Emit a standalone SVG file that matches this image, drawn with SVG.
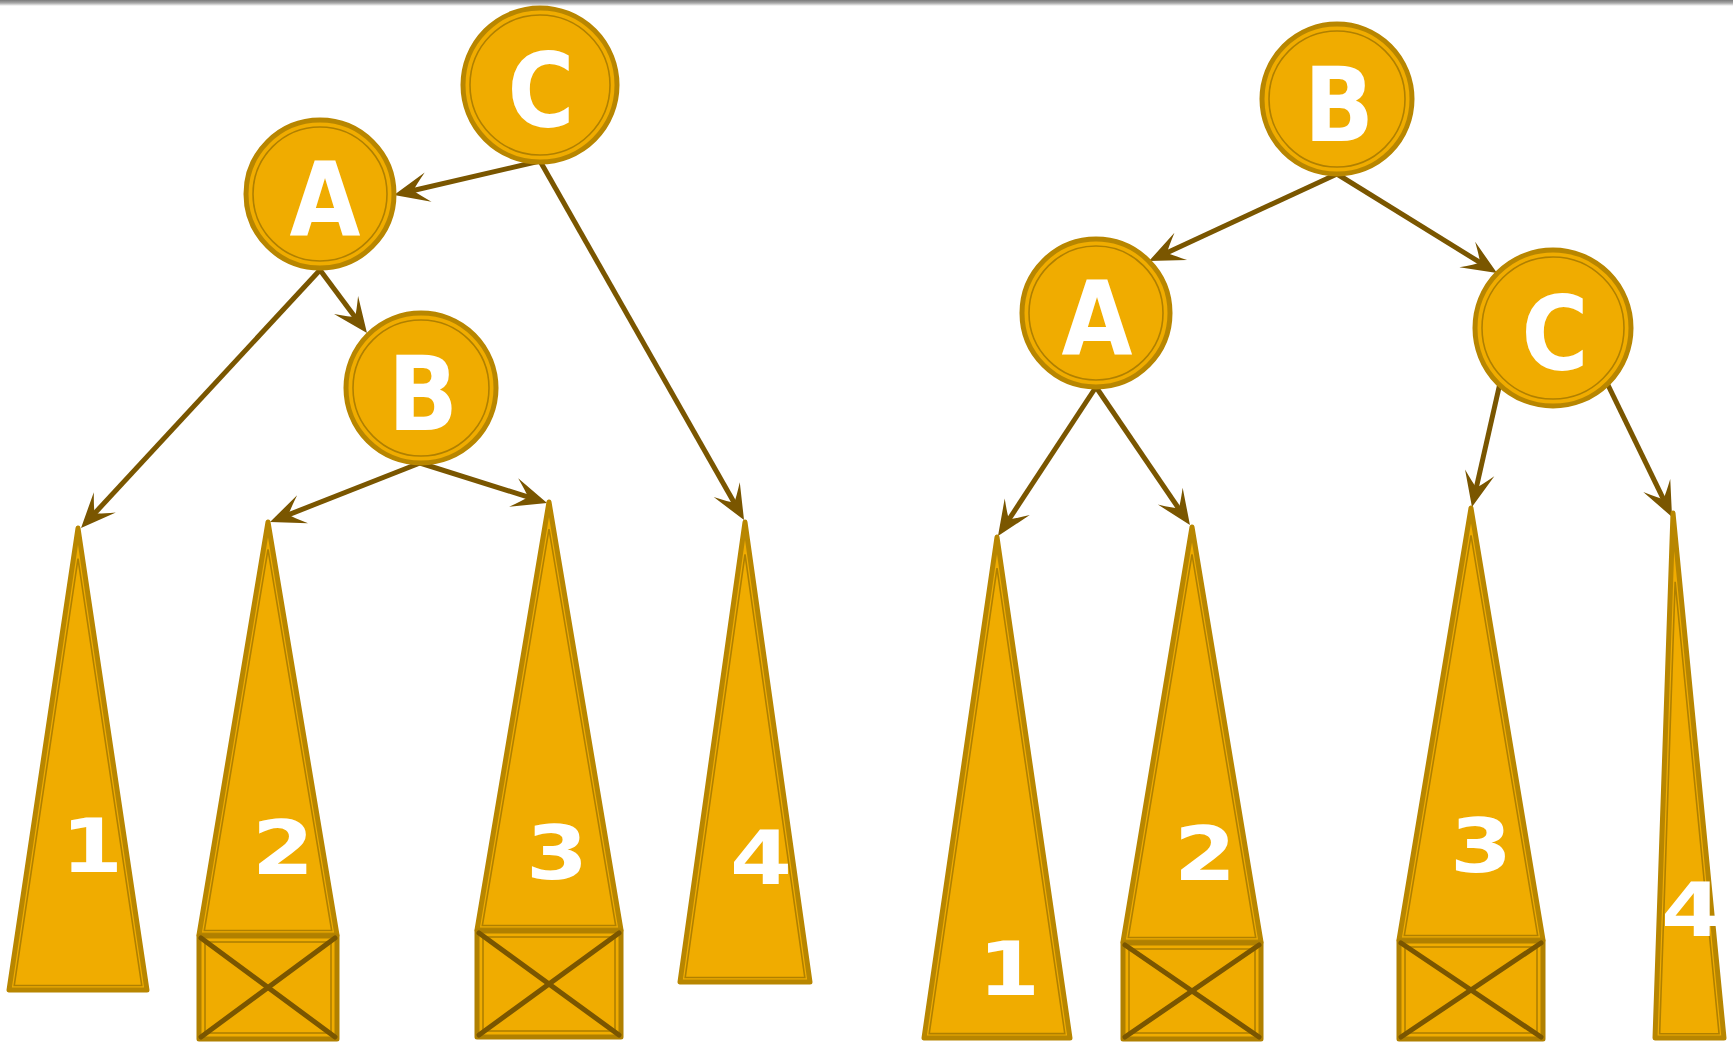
<svg xmlns="http://www.w3.org/2000/svg" width="1733" height="1044" viewBox="0 0 1733 1044">
<defs>
<linearGradient id="shade" x1="0" y1="0" x2="0" y2="1">
<stop offset="0" stop-color="#7a7a7a"/>
<stop offset="0.5" stop-color="#a8a8a8"/>
<stop offset="1" stop-color="#ffffff"/>
</linearGradient>
<marker id="arr" markerUnits="userSpaceOnUse" markerWidth="80" markerHeight="80" viewBox="-40 -40 80 80" refX="0" refY="0" orient="auto" overflow="visible">
<path d="M12,0 L-23,-15 Q-11,-4 -8,0 Q-11,4 -23,15 Z" fill="#7a5600"/>
</marker>
<style>
.ring{fill:#f0ac00;stroke:#b88600;stroke-width:5}
.inring{fill:none;stroke:#b08000;stroke-width:1.6}
.lbl{font-family:"DejaVu Sans","Liberation Sans",sans-serif;font-weight:bold;font-size:104px;fill:#ffffff;text-anchor:middle}
.num{font-family:"DejaVu Sans","Liberation Sans",sans-serif;font-weight:bold;font-size:74px;fill:#ffffff;text-anchor:middle}
.tri{fill:#f0ac00;stroke:#b88600;stroke-width:5;stroke-linejoin:round}
.intri{fill:none;stroke:#b08000;stroke-width:1.6;vector-effect:non-scaling-stroke}
.box{fill:#f0ac00;stroke:#b08000;stroke-width:5;stroke-linejoin:round}
.inbox{fill:none;stroke:#b08000;stroke-width:1.6}
.x{stroke:#7a5600;stroke-width:5;stroke-linecap:round}
.edge{fill:none;stroke:#7a5600;stroke-width:5;marker-end:url(#arr)}
</style>
</defs>
<rect x="0" y="0" width="1733" height="1044" fill="#ffffff"/>
<rect x="0" y="0" width="1733" height="6" fill="url(#shade)"/>

<g id="connectors">
<line class="edge" x1="540" y1="161" x2="405.7" y2="192.3"/>
<line class="edge" x1="540" y1="161" x2="738.1" y2="509.6"/>
<line class="edge" x1="320" y1="270" x2="89.2" y2="519.2"/>
<line class="edge" x1="320" y1="270" x2="359.8" y2="323.4"/>
<line class="edge" x1="420" y1="463" x2="281.2" y2="517.6"/>
<line class="edge" x1="420" y1="463" x2="535.6" y2="499.4"/>
<line class="edge" x1="1337" y1="174" x2="1159.9" y2="256"/>
<line class="edge" x1="1337" y1="174" x2="1486.8" y2="266.7"/>
<line class="edge" x1="1096" y1="387" x2="1004.6" y2="526"/>
<line class="edge" x1="1096" y1="387" x2="1183.2" y2="515.1"/>
<line class="edge" x1="1500" y1="383" x2="1474.6" y2="495.3"/>
<line class="edge" x1="1607" y1="383" x2="1666.8" y2="506.2"/>
</g>

<!-- left tree -->
<g id="L-C">
<circle class="ring" cx="540" cy="85" r="77"/>
<circle class="inring" cx="540" cy="85" r="70"/>
<text class="lbl" x="541" y="127" textLength="67" lengthAdjust="spacingAndGlyphs">C</text>
</g>
<g id="L-A">
<circle class="ring" cx="320" cy="194" r="74"/>
<circle class="inring" cx="320" cy="194" r="67"/>
<text class="lbl" x="325" y="236" textLength="71" lengthAdjust="spacingAndGlyphs">A</text>
</g>
<g id="L-B">
<circle class="ring" cx="421" cy="388" r="75"/>
<circle class="inring" cx="421" cy="388" r="68"/>
<text class="lbl" x="423" y="430" textLength="70" lengthAdjust="spacingAndGlyphs">B</text>
</g>
<g id="L-T1">
<polygon class="tri" points="78,528 9,990 147,990"/>
<polygon class="intri" points="78,528 9,990 147,990" transform="translate(78 930.5) scale(0.924) translate(-78 -930.5)"/>
<text class="num" x="92" y="872" textLength="62" lengthAdjust="spacingAndGlyphs">1</text>
</g>
<g id="L-T2">
<polygon class="tri" points="268,522 199,935 337,935"/>
<polygon class="intri" points="268,522 199,935 337,935" transform="translate(268 876.6) scale(0.923) translate(-268 -876.6)"/>
<rect class="box" x="199" y="936" width="138" height="103"/>
<rect class="inbox" x="205" y="942" width="126" height="91"/>
<line class="x" x1="201" y1="938" x2="335" y2="1037"/>
<line class="x" x1="335" y1="938" x2="201" y2="1037"/>
<text class="num" x="283" y="874" textLength="62" lengthAdjust="spacingAndGlyphs">2</text>
</g>
<g id="L-T3">
<polygon class="tri" points="549,502 477,930 621,930"/>
<polygon class="intri" points="549,502 477,930 621,930" transform="translate(549 869.1) scale(0.926) translate(-549 -869.1)"/>
<rect class="box" x="477" y="931" width="144" height="106"/>
<rect class="inbox" x="483" y="937" width="132" height="94"/>
<line class="x" x1="479" y1="933" x2="619" y2="1035"/>
<line class="x" x1="619" y1="933" x2="479" y2="1035"/>
<text class="num" x="557" y="879" textLength="62" lengthAdjust="spacingAndGlyphs">3</text>
</g>
<g id="L-T4">
<polygon class="tri" points="745,522 680,982 810,982"/>
<polygon class="intri" points="745,522 680,982 810,982" transform="translate(745 925.5) scale(0.920) translate(-745 -925.5)"/>
<text class="num" x="761" y="884" textLength="62" lengthAdjust="spacingAndGlyphs">4</text>
</g>

<!-- right tree -->
<g id="R-B">
<circle class="ring" cx="1337" cy="99" r="75"/>
<circle class="inring" cx="1337" cy="99" r="68"/>
<text class="lbl" x="1339" y="141" textLength="70" lengthAdjust="spacingAndGlyphs">B</text>
</g>
<g id="R-A">
<circle class="ring" cx="1096" cy="313" r="74"/>
<circle class="inring" cx="1096" cy="313" r="67"/>
<text class="lbl" x="1097" y="355" textLength="71" lengthAdjust="spacingAndGlyphs">A</text>
</g>
<g id="R-C">
<circle class="ring" cx="1553" cy="328" r="78"/>
<circle class="inring" cx="1553" cy="328" r="71"/>
<text class="lbl" x="1555" y="370" textLength="67" lengthAdjust="spacingAndGlyphs">C</text>
</g>
<g id="R-T1">
<polygon class="tri" points="997,537 924,1038 1070,1038"/>
<polygon class="intri" points="997,537 924,1038 1070,1038" transform="translate(997 976.8) scale(0.929) translate(-997 -976.8)"/>
<text class="num" x="1009" y="995" textLength="62" lengthAdjust="spacingAndGlyphs">1</text>
</g>
<g id="R-T2">
<polygon class="tri" points="1192,527 1123,942 1261,942"/>
<polygon class="intri" points="1192,527 1123,942 1261,942" transform="translate(1192 883.5) scale(0.923) translate(-1192 -883.5)"/>
<rect class="box" x="1123" y="943" width="138" height="96"/>
<rect class="inbox" x="1129" y="949" width="126" height="84"/>
<line class="x" x1="1125" y1="945" x2="1259" y2="1037"/>
<line class="x" x1="1259" y1="945" x2="1125" y2="1037"/>
<text class="num" x="1205" y="880" textLength="62" lengthAdjust="spacingAndGlyphs">2</text>
</g>
<g id="R-T3">
<polygon class="tri" points="1471,508 1399,940 1543,940"/>
<polygon class="intri" points="1471,508 1399,940 1543,940" transform="translate(1471 879) scale(0.926) translate(-1471 -879)"/>
<rect class="box" x="1399" y="941" width="144" height="98"/>
<rect class="inbox" x="1405" y="947" width="132" height="86"/>
<line class="x" x1="1401" y1="943" x2="1541" y2="1037"/>
<line class="x" x1="1541" y1="943" x2="1401" y2="1037"/>
<text class="num" x="1481" y="872" textLength="62" lengthAdjust="spacingAndGlyphs">3</text>
</g>
<g id="R-T4">
<polygon class="tri" points="1673,513 1655,1038 1724,1038"/>
<polygon class="intri" points="1673,513 1655,1038 1724,1038" transform="translate(1688.4 1007.7) scale(0.861) translate(-1688.4 -1007.7)"/>
<text class="num" x="1692" y="936" textLength="62" lengthAdjust="spacingAndGlyphs">4</text>
</g>
</svg>
